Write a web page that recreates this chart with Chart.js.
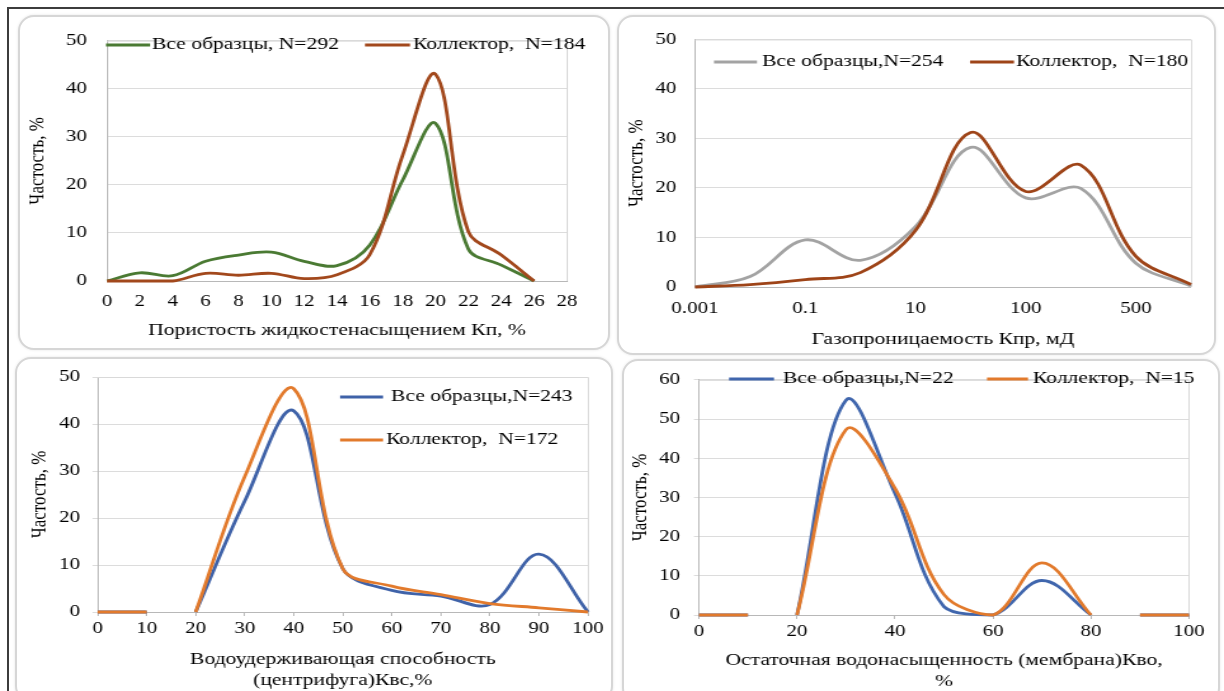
<!DOCTYPE html>
<html>
<head>
<meta charset="utf-8">
<script src="https://cdn.jsdelivr.net/npm/chart.js@4.4.1/dist/chart.umd.min.js"></script>
<style>
html,body{margin:0;padding:0;background:#fff;}
body{width:1224px;height:691px;overflow:hidden;position:relative;}
.frame{position:absolute;left:7px;top:7px;width:1240px;height:720px;border-top:2px solid #3c3c3c;border-left:2px solid #3c3c3c;}
.panel{position:absolute;box-sizing:border-box;border:2px solid #d6d6d6;border-radius:16px;box-shadow:0 0 3px rgba(0,0,0,0.10);background:#fff;}
.wrap{position:absolute;transform-origin:0 0;}
canvas{display:block;}
</style>
</head>
<body>
<div class="frame"></div>
<script>
// ---------- DATA ----------
const yTitle = 'Частость, %';

// Panel 1: porosity
const porosityCats = ['0','2','4','6','8','10','12','14','16','18','20','22','24','26','28'];
const porosityAll  = [0, 1.7, 1.1, 4.1, 5.4, 6.0, 4.1, 3.2, 7.5, 21.0, 32.8, 6.6, 3.3, 0];
const porosityColl = [0, 0, 0, 1.6, 1.2, 1.6, 0.5, 1.3, 5.5, 26.2, 43.0, 10.2, 5.4, 0];
const porosityLabels = ['Все образцы, N=292', 'Коллектор,  N=184'];
const porosityTitle = 'Пористость жидкостенасыщением Кп, %';

// Panel 2: gas permeability
const permCats = ['0.001','','0.1','','10','','100','','500',''];
const permAll  = [0, 2.1, 9.5, 5.4, 12.2, 28.2, 18.0, 19.9, 4.8, 0.2];
const permColl = [0, 0.5, 1.5, 2.9, 11.4, 31.2, 19.3, 24.6, 6.2, 0.5];
const permLabels = ['Все образцы,N=254', 'Коллектор,  N=180'];
const permTitle = 'Газопроницаемость Кпр, мД';

// Panel 3: water retention (centrifuge)
const kvsX    = [0, 10, 15, 20, 30, 40, 50, 60, 70, 80, 90, 100];
const kvsAll  = [0, 0, null, 0, 23.6, 42.8, 9.2, 4.6, 3.4, 1.6, 12.3, 0];
const kvsColl = [0, 0, null, 0, 28.8, 47.5, 9.2, 5.5, 3.7, 1.8, 0.9, 0];
const kvsLabels = ['Все образцы,N=243', 'Коллектор,  N=172'];
const kvsTitle = ['Водоудерживающая способность', '(центрифуга)Квс,%'];

// Panel 4: residual water saturation (membrane)
const kvoX    = [0, 10, 15, 20, 30, 40, 50, 60, 70, 80, 85, 90, 100];
const kvoAll  = [0, 0, null, 0, 54.8, 31.0, 2.1, 0, 8.8, 0, null, 0, 0];
const kvoColl = [0, 0, null, 0, 47.3, 32.3, 5.2, 0, 13.3, 0, null, 0, 0];
const kvoLabels = ['Все образцы,N=22', 'Коллектор,  N=15'];
const kvoTitle = ['Остаточная водонасыщенность (мембрана)Кво,', '%'];

// ---------- STYLE / LAYOUT ----------
const S = 1.27; // horizontal stretch of the reference
const FONT = "'Liberation Serif','Times New Roman',serif";
const TXT = '#000000';
const TICK = 16.5, TTL = 17, LH = 1.2;

const legendPlugin = {
  id: 'lineLegend',
  afterDraw(chart, args, o) {
    if (!o || !o.items) return;
    const ctx = chart.ctx;
    ctx.save();
    ctx.font = `${o.size}px ${FONT}`;
    ctx.textBaseline = 'middle';
    ctx.textAlign = 'left';
    o.items.forEach(it => {
      const ds = chart.data.datasets[it.ds];
      const x0 = (it.line[0] - o.PL) / S, x1 = (it.line[1] - o.PL) / S;
      const tx = (it.text - o.PL) / S, y = it.y - o.PT;
      ctx.strokeStyle = ds.borderColor;
      ctx.lineWidth = ds.borderWidth;
      ctx.beginPath(); ctx.moveTo(x0, y); ctx.lineTo(x1, y); ctx.stroke();
      ctx.fillStyle = TXT;
      ctx.fillText(ds.label, tx, y);
    });
    ctx.restore();
  }
};
const framePlugin = {
  id: 'plotFrame',
  beforeDatasetsDraw(chart, args, o) {
    const {left, right, top, bottom} = chart.chartArea;
    const ctx = chart.ctx;
    ctx.save();
    ctx.strokeStyle = o.color || '#d9d9d9';
    ctx.lineWidth = 1;
    ctx.beginPath();
    ctx.moveTo(left, top + 0.5); ctx.lineTo(Math.round(right) + 0.5, top + 0.5);
    ctx.lineTo(Math.round(right) + 0.5, bottom);
    ctx.stroke();
    ctx.restore();
  }
};

function makePanel(p) {
  const [PL, PT, PW, PH] = p.box;
  const fr = document.createElement('div');
  fr.className = 'panel';
  Object.assign(fr.style, {left: PL + 'px', top: PT + 'px', width: PW + 'px', height: PH + 'px'});
  document.body.appendChild(fr);

  const W = Math.round(PW / S);
  const wrap = document.createElement('div');
  wrap.className = 'wrap';
  Object.assign(wrap.style, {left: PL + 'px', top: PT + 'px', width: W + 'px', height: PH + 'px', transform: `scaleX(${S})`});
  const cv = document.createElement('canvas');
  cv.width = W; cv.height = PH;
  cv.style.width = W + 'px'; cv.style.height = PH + 'px';
  wrap.appendChild(cv);
  document.body.appendChild(wrap);

  const [CL, CT, CR, CB] = p.area;
  const lxL = (CL - PL) / S, lxR = (CR - PL) / S;
  const xH = PH - (CB - PT);
  const titleLines = Array.isArray(p.xTitle) ? p.xTitle.length : 1;
  const tlh = TTL * LH;
  const xTitlePad = (PT + PH - p.xTitleY) - tlh / 2 - tlh * (titleLines - 1);
  const yTitlePad = (p.yTitleX - PL) / S - tlh / 2;
  const tickLH = TICK * LH;
  const xTL = p.ticks ? 4 : 0;
  const yTL = p.ticks ? 4 : 0;
  const xTickPad = (p.xTickY - CB) - tickLH / 2 - xTL;
  const yTickPad = (CL - p.yTickR) / S - yTL;

  const ds = p.series.map((s, i) => ({
    label: s.label,
    data: s.data,
    borderColor: s.color,
    backgroundColor: s.color,
    borderWidth: 2.8,
    pointRadius: 0,
    pointHoverRadius: 0,
    tension: 0.36,
    fill: false,
    spanGaps: false,
    clip: 3,
    order: p.series.length - 1 - i
  }));

  const xScale = Object.assign({
    grid: {drawOnChartArea: false, drawTicks: p.ticks, tickLength: 4, color: '#b8b8b8'},
    border: {display: true, color: '#b8b8b8', width: 1},
    ticks: {color: TXT, font: {family: FONT, size: TICK}, padding: xTickPad, autoSkip: false, maxRotation: 0, minRotation: 0},
    title: {display: true, text: p.xTitle, color: TXT, font: {family: FONT, size: TTL, lineHeight: LH}, padding: {top: 0, bottom: xTitlePad}},
    afterFit: sc => { sc.height = xH; }
  }, p.xExtra);

  new Chart(cv, {
    type: 'line',
    data: {labels: p.labels, datasets: ds},
    options: {
      responsive: false,
      animation: false,
      devicePixelRatio: 1,
      layout: {padding: {left: 0, right: W - lxR, top: CT - PT, bottom: 0}},
      plugins: {
        legend: {display: false},
        tooltip: {enabled: false},
        lineLegend: {items: p.legend, PL: PL, PT: PT, size: TTL},
        plotFrame: {color: '#d9d9d9'}
      },
      scales: {
        x: xScale,
        y: {
          min: 0, max: p.yMax,
          grid: {color: '#dcdcdc', drawTicks: p.ticks, tickLength: 4, lineWidth: 1},
          border: {display: true, color: '#b8b8b8', width: 1},
          ticks: {stepSize: 10, color: TXT, font: {family: FONT, size: TICK}, padding: yTickPad},
          title: {display: true, text: yTitle, color: TXT, font: {family: FONT, size: TTL, lineHeight: LH}, padding: {top: yTitlePad, bottom: 0}},
          afterFit: sc => { sc.width = lxL; }
        }
      }
    },
    plugins: [legendPlugin, framePlugin]
  });
}

const toXY = (xs, ys) => xs.map((x, i) => ({x: x, y: ys[i]}));

// Panel 1
makePanel({
  box: [18, 15, 592, 335], area: [107, 33, 567, 281],
  labels: porosityCats,
  series: [
    {label: porosityLabels[0], data: porosityAll, color: '#4a7a33'},
    {label: porosityLabels[1], data: porosityColl, color: '#a2481c'}
  ],
  xExtra: {type: 'category', offset: false},
  yMax: 50, ticks: false,
  xTitle: porosityTitle, xTitleY: 331, yTitleX: 37.5, xTickY: 302, yTickR: 87,
  legend: [
    {ds: 0, line: [106, 150], text: 152, y: 45},
    {ds: 1, line: [365, 410], text: 413, y: 45}
  ]
});

// Panel 2
makePanel({
  box: [617, 15, 599, 340], area: [695, 37, 1191, 287],
  labels: permCats,
  series: [
    {label: permLabels[0], data: permAll, color: '#a3a3a3'},
    {label: permLabels[1], data: permColl, color: '#9e4418'}
  ],
  xExtra: {type: 'category', offset: false},
  yMax: 50, ticks: false,
  xTitle: permTitle, xTitleY: 340, yTitleX: 636.5, xTickY: 309, yTickR: 676.5,
  legend: [
    {ds: 0, line: [714, 757], text: 762, y: 62},
    {ds: 1, line: [970, 1014], text: 1016, y: 62}
  ]
});

// Panel 3
makePanel({
  box: [15, 357, 598, 345], area: [97.6, 377, 588, 612],
  labels: undefined,
  series: [
    {label: kvsLabels[0], data: toXY(kvsX, kvsAll), color: '#3f62a8'},
    {label: kvsLabels[1], data: toXY(kvsX, kvsColl), color: '#e27a2c'}
  ],
  xExtra: {type: 'linear', min: 0, max: 100, ticks: {stepSize: 10, color: TXT, font: {family: FONT, size: TICK}, autoSkip: false, maxRotation: 0}},
  yMax: 50, ticks: true,
  xTitle: kvsTitle, xTitleY: 660, yTitleX: 40, xTickY: 635, yTickR: 80,
  legend: [
    {ds: 0, line: [340, 383], text: 391, y: 397},
    {ds: 1, line: [340, 383], text: 386, y: 440}
  ]
});

// Panel 4
makePanel({
  box: [622, 359, 598, 345], area: [699, 374.5, 1189, 615],
  labels: undefined,
  series: [
    {label: kvoLabels[0], data: toXY(kvoX, kvoAll), color: '#4066ad'},
    {label: kvoLabels[1], data: toXY(kvoX, kvoColl), color: '#e27a2c'}
  ],
  xExtra: {type: 'linear', min: 0, max: 100, ticks: {stepSize: 20, color: TXT, font: {family: FONT, size: TICK}, autoSkip: false, maxRotation: 0}},
  yMax: 60, ticks: true,
  xTitle: kvoTitle, xTitleY: 661, yTitleX: 640, xTickY: 638, yTickR: 680,
  legend: [
    {ds: 0, line: [729, 774], text: 783, y: 379},
    {ds: 1, line: [987, 1028], text: 1033, y: 379}
  ]
});
</script>
</body>
</html>
